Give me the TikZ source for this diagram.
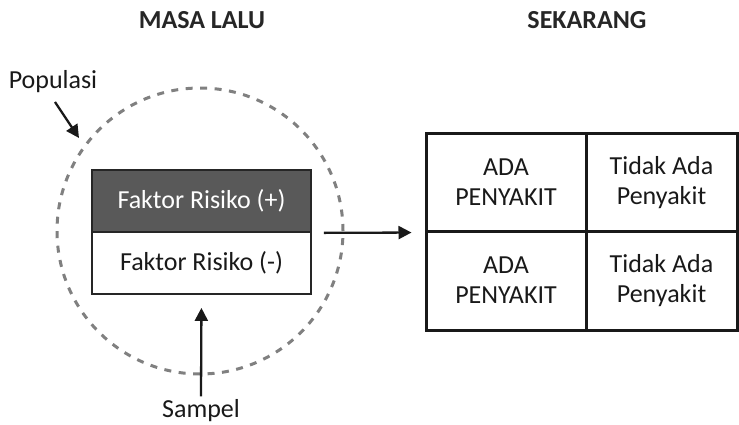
\documentclass[tikz,border=0pt]{standalone}
\usepackage{fontspec}
\setmainfont{Carlito}
\usetikzlibrary{arrows.meta}
\begin{document}
\begin{tikzpicture}[x=1pt,y=-1pt,
  title/.style={font=\fontsize{26}{30}\selectfont\bfseries, text=black!85},
  lbl/.style={font=\fontsize{26}{30}\selectfont, text=black!90},
  boxtxt/.style={font=\fontsize{26}{30}\selectfont, align=center},
  fbox/.style={draw=black!85, line width=1.8pt, minimum width=219pt, minimum height=62pt, inner sep=0pt, boxtxt},
  cell/.style={draw=black!90, line width=3pt, minimum height=97pt, inner sep=0pt, boxtxt, text=black!90},
  arr/.style={line width=2.3pt, draw=black!90, -{Triangle[length=13pt,width=13pt]}},
  dashc/.style={draw=black!50, line width=3pt, dash pattern=on 7pt off 7.5pt}
]
\useasboundingbox (0,0) rectangle (739,425);
% titles
\node[title] (past) at (202,20) {MASA LALU};
\node[title] (now) at (587,20) {SEKARANG};
% population circle
\node[dashc, circle, minimum size=286pt, inner sep=0pt] (pop) at (200,231) {};
% factor boxes
\node[fbox, fill=black!65, text=white] (fpos) at (201.5,201) {Faktor Risiko (+)};
\node[fbox, fill=white, text=black!90] (fneg) at (201.5,263) {Faktor Risiko (-)};
% table cells
\node[cell, minimum width=160pt] (c11) at (506,182.5) {ADA\\PENYAKIT};
\node[cell, minimum width=151pt] (c12) at (661.5,182.5) {Tidak Ada\\Penyakit};
\node[cell, minimum width=160pt, minimum height=99pt] (c21) at (506,280.5) {ADA\\PENYAKIT};
\node[cell, minimum width=151pt, minimum height=99pt] (c22) at (661.5,280.5) {Tidak Ada\\Penyakit};
% main arrow
\draw[arr, shorten <=12pt, shorten >=13pt] (fpos.south east) -- (c11.south west);
% labels
\node[lbl] (popl) at (53,82) {Populasi};
\coordinate (poptip) at (79,138);
\draw[arr] ([xshift=2pt,yshift=-20pt]popl.center) -- (poptip);
\node[lbl] (samp) at (201,411) {Sampel};
\draw[arr, shorten >=13pt] (samp.north) -- (fneg.south);
\end{tikzpicture}
\end{document}
